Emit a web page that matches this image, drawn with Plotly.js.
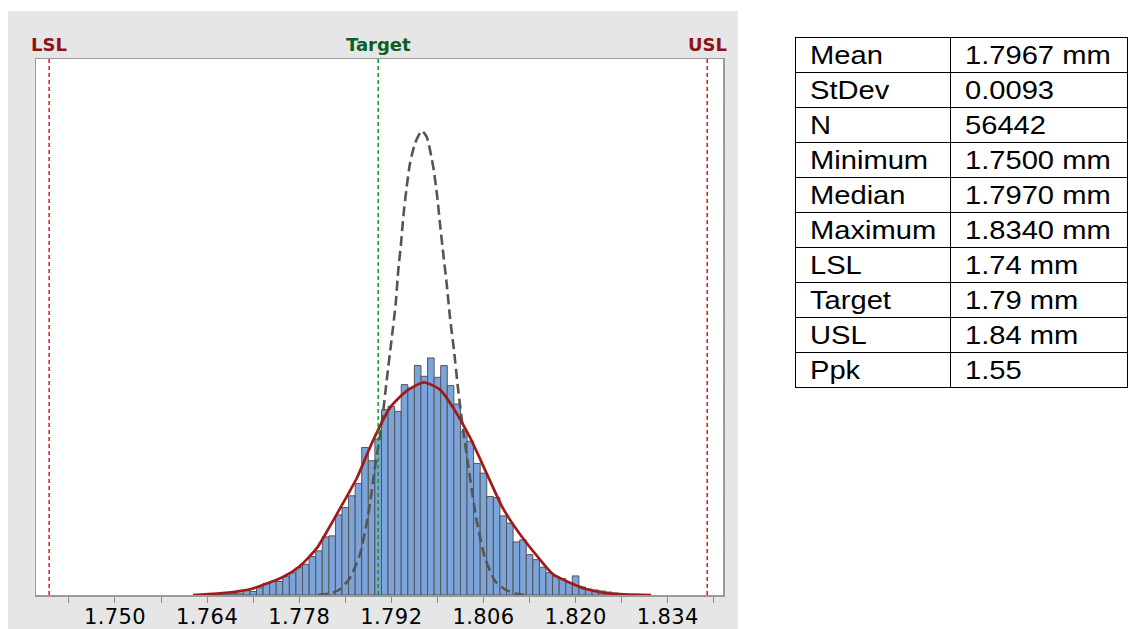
<!DOCTYPE html>
<html>
<head>
<meta charset="utf-8">
<script src="https://cdn.plot.ly/plotly-3.0.1.min.js"></script>
<style>
  html, body { margin: 0; padding: 0; background: #ffffff; }
  body { width: 1129px; height: 629px; position: relative; overflow: hidden; }
  #panel { position: absolute; left: 8px; top: 11px; width: 730px; height: 618px; }
  #stats { position: absolute; left: 795px; top: 37px; border-collapse: collapse;
           font-family: "Liberation Sans", Arial, sans-serif; font-size: 26px; color: #000; }
  #stats td { border: 1.5px solid #000; height: 34px; padding: 0 0 0 14px; white-space: nowrap; }
  #stats td span { display: inline-block; transform: scaleX(1.12); transform-origin: left center; }
  #stats td.k { width: 140px; }
  #stats td.v { width: 162px; }
  #panel .xtick text { letter-spacing: 0.4px; }
</style>
</head>
<body>
<div id="panel"></div>
<table id="stats"></table>
<script>
// ---- histogram data (bin centers, mm; counts) ----
const binCenters = [1.765,1.766,1.767,1.768,1.769,1.770,1.771,1.772,1.773,1.774,1.775,1.776,1.777,1.778,1.779,1.780,
  1.781,1.782,1.783,1.784,1.785,1.786,1.787,1.788,1.789,1.790,1.791,1.792,1.793,1.794,1.795,1.796,1.797,1.798,1.799,
  1.800,1.801,1.802,1.803,1.804,1.805,1.806,1.807,1.808,1.809,1.810,1.811,1.812,1.813,1.814,1.815,1.816,1.817,1.818,
  1.819,1.820,1.821,1.822,1.823,1.824,1.825,1.826,1.827];
const binCounts = [6,11,11,16,22,57,40,83,133,154,154,213,254,311,350,437,
  502,661,673,912,995,1129,1269,1679,1528,1775,2109,2147,2090,2394,2356,2611,2489,2698,2477,
  2611,2383,2174,1858,1750,1497,1387,1121,1109,901,817,604,627,459,402,316,254,209,186,
  140,217,91,68,57,46,34,23,11];

// ---- overall normal fit (solid red) ----
const overallX = [1.76185,1.76550,1.77052,1.77553,1.77812,1.78070,1.78313,1.78571,1.78678,1.78921,1.79179,1.79438,
  1.79696,1.79939,1.80137,1.80395,1.80653,1.80897,1.81155,1.81413,1.81657,1.81915,1.82173,1.82523,1.83146];
const overallY = [0,15,65,205,331,536,844,1186,1334,1756,2132,2326,
  2420,2337,2135,1793,1376,985,692,445,236,140,65,17,0];

// ---- within fit (dashed grey) ----
const withinX = [1.78085,1.78267,1.78419,1.78571,1.78723,1.78850,1.78951,1.79053,1.79129,1.79205,1.79266,1.79305,
  1.79347,1.79381,1.79433,1.79483,1.79559,1.79661,1.79737,1.79837,1.79898,1.79939,1.79989,1.80041,1.80091,1.80152,
  1.80217,1.80293,1.80395,1.80497,1.80623,1.80775,1.80927,1.81079,1.81231];
const withinY = [0,17,65,194,464,920,1451,1946,2440,2918,3314,3694,
  3998,4301,4643,4910,5138,5282,5213,4871,4529,4226,3884,3542,3161,2782,
  2326,1870,1337,844,422,160,65,17,0];

// ---- specification limits ----
const specNames = ["LSL", "Target", "USL"];
const specValues = [1.74, 1.79, 1.84];
const specColors = ["#e0151b", "#109a2a", "#e0151b"];
const specLabelColors = ["#8e1414", "#0b6020", "#8e1414"];

// ---- axis ticks ----
const tickValues = [1.750, 1.764, 1.778, 1.792, 1.806, 1.820, 1.834];
const tickLabels = ["1.750", "1.764", "1.778", "1.792", "1.806", "1.820", "1.834"];

// ---- summary table ----
const statNames = ["Mean", "StDev", "N", "Minimum", "Median", "Maximum", "LSL", "Target", "USL", "Ppk"];
const statValues = ["1.7967 mm", "0.0093", "56442", "1.7500 mm", "1.7970 mm", "1.8340 mm", "1.74 mm", "1.79 mm", "1.84 mm", "1.55"];

const tbl = document.getElementById('stats');
statNames.forEach((n, i) => {
  const tr = document.createElement('tr');
  const a = document.createElement('td'); a.className = 'k';
  const sa = document.createElement('span'); sa.textContent = n; a.appendChild(sa);
  const b = document.createElement('td'); b.className = 'v';
  const sb = document.createElement('span'); sb.textContent = statValues[i]; b.appendChild(sb);
  tr.appendChild(a); tr.appendChild(b); tbl.appendChild(tr);
});

const traces = [
  { type: 'bar', x: binCenters, y: binCounts, width: 0.001,
    marker: { color: '#7ba5da', line: { color: '#555555', width: 1 } }, hoverinfo: 'x+y' },
  { type: 'scatter', mode: 'lines', x: withinX, y: withinY,
    line: { color: '#555555', width: 2.6, dash: '10px,5px', shape: 'spline', smoothing: 0.6 } },
  { type: 'scatter', mode: 'lines', x: overallX, y: overallY,
    line: { color: '#a01a1a', width: 2.7, shape: 'spline', smoothing: 0.6 } }
];

const shapes = specValues.map((v, i) => ({
  type: 'line', xref: 'x', yref: 'paper', x0: v, x1: v, y0: 0, y1: 1,
  line: { color: specColors[i], width: 1.5, dash: '4px,3px' }
}));

const annotations = specValues.map((v, i) => ({
  x: v, xref: 'x', y: 1, yref: 'paper', yanchor: 'bottom', xanchor: 'center', yshift: 2,
  text: specNames[i], showarrow: false,
  font: { family: 'DejaVu Sans, sans-serif', size: 18, color: specLabelColors[i], weight: 'bold' }
}));

const layout = {
  width: 730, height: 618,
  margin: { l: 28, r: 15, t: 48, b: 34 },
  paper_bgcolor: '#e6e6e6', plot_bgcolor: '#ffffff',
  showlegend: false, bargap: 0,
  xaxis: {
    range: [1.7380, 1.8424], tickvals: tickValues, ticktext: tickLabels,
    ticks: 'outside', ticklen: 6, tickcolor: '#8a8a8a', tickwidth: 1,
    ticklabelstandoff: -4,
    minor: { dtick: 0.007, tick0: 1.743, ticks: 'outside', ticklen: 6, tickcolor: '#8a8a8a', showgrid: false },
    showgrid: false, zeroline: false,
    showline: true, linecolor: '#9a9a9a', linewidth: 1.5, mirror: true,
    tickfont: { family: 'DejaVu Sans, sans-serif', size: 21, color: '#000' }
  },
  yaxis: {
    range: [0, 6100], showticklabels: false, ticks: '', showgrid: false, zeroline: false,
    showline: true, linecolor: '#9a9a9a', linewidth: 1.5, mirror: true
  },
  shapes: shapes,
  annotations: annotations
};

Plotly.newPlot('panel', traces, layout, { displayModeBar: false, staticPlot: true });
</script>
</body>
</html>
